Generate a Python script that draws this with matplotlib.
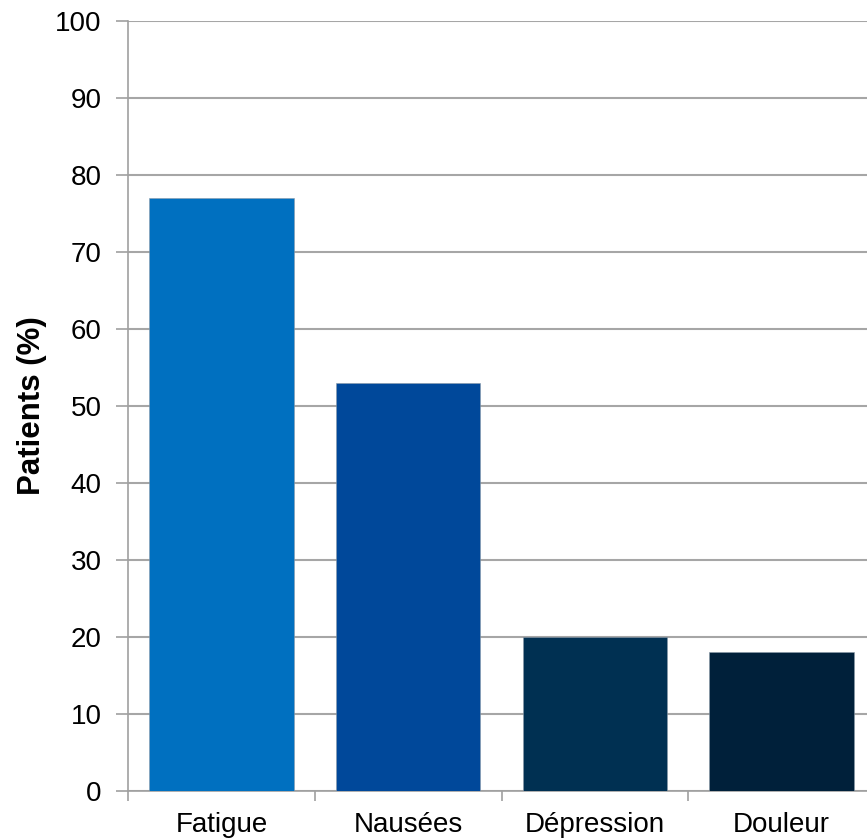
import matplotlib
matplotlib.use("Agg")
import matplotlib.pyplot as plt

categories = ["Fatigue", "Nausées", "Dépression", "Douleur"]
values = [77, 53, 20, 18]
colors = ["#0070C0", "#00489A", "#003052", "#00203A"]
yticks = list(range(0, 101, 10))

plt.rcParams["font.family"] = ["Liberation Sans", "DejaVu Sans"]

W, H = 867, 839
fig = plt.figure(figsize=(W / 100, H / 100), dpi=100)
left, right, bottom, top = 128, 875, 791, 21
ax = fig.add_axes([left / W, (H - bottom) / H, (right - left) / W, (bottom - top) / H])

x = list(range(len(categories)))
ax.bar(x, values, width=0.775, color=colors, edgecolor="#8a9aa8", linewidth=0.4, zorder=3)

ax.set_xlim(-0.5, len(categories) - 0.5)
ax.set_ylim(0, 100)
ax.set_yticks(yticks)
ax.set_yticklabels([str(t) for t in yticks], fontsize=20)
ax.set_xticks(x)
ax.set_xticklabels(categories, fontsize=20)
ax.set_xticks([i - 0.5 for i in range(len(categories) + 1)], minor=True)

ax.tick_params(axis="x", which="major", length=0, pad=15)
ax.tick_params(axis="x", which="minor", length=7, width=1.2, color="#A0A0A0", direction="out")
ax.tick_params(axis="y", length=9, width=1.2, color="#A0A0A0", pad=10)

ax.yaxis.grid(True, color="#A6A6A6", linewidth=1.5, zorder=0)
ax.set_axisbelow(True)

for side in ["top", "right"]:
    ax.spines[side].set_visible(False)
for side in ["left", "bottom"]:
    ax.spines[side].set_color("#A0A0A0")
    ax.spines[side].set_linewidth(1.2)

ax.set_ylabel("Patients (%)", fontsize=22.5, fontweight="bold", labelpad=6)

fig.savefig("out.png", dpi=100)
